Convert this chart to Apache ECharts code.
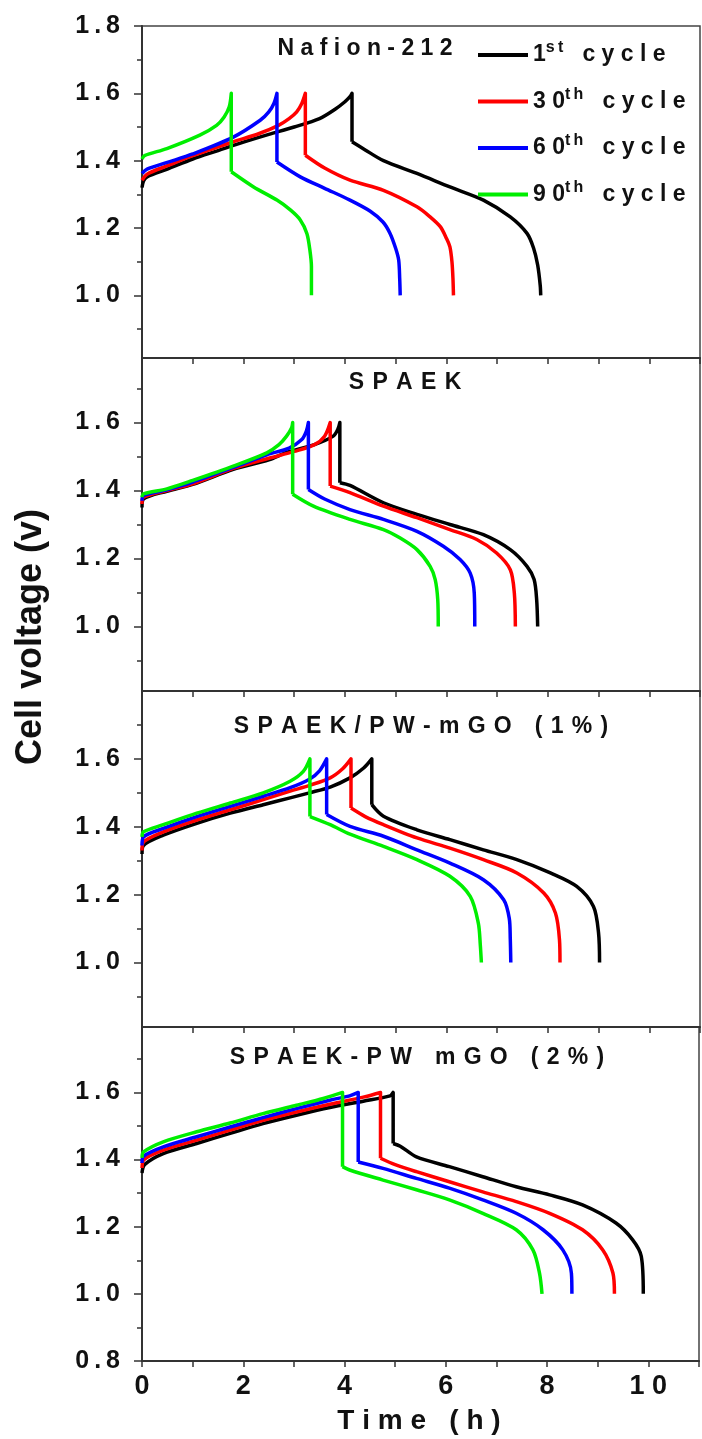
<!DOCTYPE html>
<html>
<head>
<meta charset="utf-8">
<title>Charge-discharge curves</title>
<script src="https://cdn.jsdelivr.net/npm/echarts@6/dist/echarts.min.js"></script>
<style>
html, body { margin: 0; padding: 0; background: #fff; }
#chart { width: 702px; height: 1439px; }
</style>
</head>
<body>
<div id="chart"></div>
<script>
// 充放电曲线数据: [时间 h, 电压 V]
// Nafion-212
var nafion1st = [[0,1.32],[0.03,1.34],[0.1,1.352],[0.5,1.375],[1,1.405],[1.5,1.43],[2,1.455],[2.5,1.478],[3,1.50],[3.5,1.525],[3.8,1.552],[4.0,1.575],[4.1,1.59],[4.14,1.60],[4.14,1.456],[4.4,1.432],[4.76,1.40],[5.42,1.362],[6.07,1.322],[6.73,1.283],[7.26,1.233],[7.59,1.184],[7.72,1.14],[7.8,1.09],[7.85,1.03],[7.86,1.0]];
var nafion30th = [[0,1.342],[0.1,1.36],[0.5,1.385],[1,1.415],[1.8,1.456],[2.3,1.48],[2.69,1.505],[2.9,1.525],[3.05,1.545],[3.15,1.57],[3.22,1.60],[3.22,1.416],[3.6,1.378],[4.1,1.342],[4.76,1.312],[5.42,1.263],[5.68,1.233],[5.88,1.204],[6.0,1.17],[6.07,1.144],[6.11,1.10],[6.13,1.05],[6.14,1.0]];
var nafion60th = [[0,1.362],[0.1,1.375],[0.5,1.395],[1,1.42],[1.8,1.47],[2.33,1.52],[2.5,1.545],[2.6,1.57],[2.66,1.60],[2.66,1.396],[3.12,1.352],[3.6,1.318],[4.1,1.283],[4.5,1.25],[4.75,1.218],[4.89,1.184],[5.0,1.14],[5.06,1.105],[5.08,1.05],[5.09,1.0]];
var nafion90th = [[0,1.405],[0.05,1.415],[0.49,1.436],[1.14,1.476],[1.47,1.505],[1.62,1.53],[1.72,1.56],[1.76,1.60],[1.76,1.367],[2.2,1.322],[2.66,1.283],[2.93,1.253],[3.12,1.224],[3.25,1.184],[3.31,1.134],[3.34,1.085],[3.34,1.0]];
// SPAEK
var spaek1st = [[0,1.35],[0.03,1.375],[0.49,1.398],[1,1.418],[1.8,1.462],[2.5,1.49],[2.85,1.512],[3.4,1.535],[3.77,1.56],[3.86,1.58],[3.9,1.60],[3.9,1.423],[4.1,1.415],[4.76,1.364],[5.42,1.33],[6.07,1.30],[6.73,1.27],[7.26,1.226],[7.59,1.177],[7.73,1.138],[7.78,1.079],[7.8,1.0]];
var spaek30th = [[0,1.36],[0.03,1.38],[0.49,1.40],[1,1.42],[1.8,1.465],[2.5,1.495],[3,1.515],[3.4,1.535],[3.6,1.56],[3.71,1.60],[3.71,1.413],[4.1,1.394],[4.76,1.354],[5.42,1.32],[6.07,1.285],[6.6,1.256],[6.99,1.216],[7.26,1.167],[7.34,1.098],[7.36,1.0]];
var spaek60th = [[0,1.37],[0.03,1.385],[0.49,1.402],[1,1.425],[1.8,1.468],[2.46,1.505],[2.9,1.525],[3.15,1.55],[3.24,1.575],[3.28,1.60],[3.28,1.403],[3.6,1.375],[4.1,1.344],[4.76,1.315],[5.42,1.28],[5.94,1.236],[6.27,1.197],[6.47,1.157],[6.55,1.098],[6.56,1.0]];
var spaek90th = [[0,1.38],[0.03,1.39],[0.49,1.405],[1,1.43],[1.8,1.472],[2.46,1.511],[2.7,1.535],[2.85,1.56],[2.95,1.585],[2.97,1.60],[2.97,1.389],[3.38,1.354],[4.1,1.315],[4.76,1.285],[5.09,1.26],[5.42,1.226],[5.68,1.177],[5.78,1.138],[5.83,1.079],[5.84,1.0]];
// SPAEK/PW-mGO (1%)
var pw1_1st = [[0,1.32],[0.03,1.345],[0.42,1.375],[1.08,1.41],[1.74,1.44],[2.39,1.465],[2.92,1.485],[3.3,1.50],[3.71,1.517],[4.1,1.544],[4.37,1.573],[4.53,1.60],[4.53,1.465],[4.76,1.431],[5.42,1.391],[6.07,1.362],[6.73,1.332],[7.39,1.303],[8.05,1.264],[8.57,1.224],[8.9,1.165],[9.0,1.087],[9.02,1.0]];
var pw1_30th = [[0,1.33],[0.03,1.355],[0.42,1.385],[1.08,1.42],[1.74,1.45],[2.39,1.48],[2.92,1.505],[3.3,1.522],[3.71,1.544],[3.95,1.57],[4.12,1.60],[4.12,1.455],[4.4,1.43],[4.76,1.406],[5.42,1.367],[6.07,1.337],[6.73,1.303],[7.39,1.264],[7.92,1.205],[8.15,1.146],[8.23,1.067],[8.24,1.0]];
var pw1_60th = [[0,1.345],[0.03,1.37],[0.42,1.395],[1.08,1.43],[1.74,1.46],[2.39,1.49],[2.92,1.515],[3.3,1.54],[3.5,1.565],[3.64,1.60],[3.64,1.436],[4.1,1.401],[4.76,1.372],[5.42,1.332],[6.07,1.293],[6.73,1.244],[7.13,1.185],[7.24,1.13],[7.26,1.07],[7.27,1.0]];
var pw1_90th = [[0,1.37],[0.03,1.385],[0.42,1.406],[1.08,1.44],[1.74,1.47],[2.39,1.50],[2.92,1.534],[3.18,1.563],[3.31,1.60],[3.31,1.43],[3.71,1.406],[4.1,1.378],[4.76,1.342],[5.42,1.303],[6.07,1.254],[6.47,1.195],[6.63,1.116],[6.67,1.05],[6.69,1.0]];
// SPAEK-PW mGO (2%)
var pw2_1st = [[0,1.36],[0.05,1.385],[0.42,1.418],[1.08,1.448],[1.74,1.478],[2.39,1.507],[3.05,1.532],[3.71,1.555],[4.37,1.574],[4.9,1.59],[4.96,1.60],[4.96,1.448],[5.1,1.44],[5.42,1.408],[6.07,1.379],[6.73,1.349],[7.39,1.319],[8.05,1.295],[8.7,1.265],[9.36,1.211],[9.69,1.161],[9.86,1.112],[9.9,1.0]];
var pw2_30th = [[0,1.375],[0.04,1.40],[0.42,1.428],[1.08,1.458],[1.74,1.488],[2.39,1.517],[3.05,1.542],[3.71,1.565],[4.37,1.586],[4.71,1.60],[4.71,1.404],[5.0,1.385],[5.42,1.364],[6.07,1.334],[6.73,1.304],[7.39,1.275],[8.05,1.24],[8.7,1.191],[9.1,1.131],[9.3,1.062],[9.33,1.0]];
var pw2_60th = [[0,1.39],[0.03,1.41],[0.42,1.438],[1.08,1.468],[1.74,1.497],[2.39,1.525],[3.05,1.552],[3.71,1.577],[4.1,1.59],[4.27,1.60],[4.27,1.393],[4.76,1.374],[5.42,1.344],[6.07,1.315],[6.73,1.28],[7.39,1.24],[7.92,1.191],[8.31,1.131],[8.48,1.062],[8.49,1.0]];
var pw2_90th = [[0,1.405],[0.03,1.423],[0.42,1.453],[1.08,1.483],[1.74,1.509],[2.39,1.537],[3.05,1.562],[3.58,1.582],[3.96,1.60],[3.96,1.379],[4.1,1.369],[4.76,1.339],[5.42,1.31],[6.07,1.28],[6.73,1.24],[7.39,1.191],[7.72,1.131],[7.85,1.062],[7.9,1.0]];

var cycleNames = ['1st cycle', '30th cycle', '60th cycle', '90th cycle'];
var cycleNumbers = ['1', '30', '60', '90'];
var cycleSuffix = ['st', 'th', 'th', 'th'];
var panelTitles = ['Nafion-212', 'SPAEK', 'SPAEK/PW-mGO (1%)', 'SPAEK-PW mGO (2%)'];
var panelData = [
	[nafion1st, nafion30th, nafion60th, nafion90th],
	[spaek1st, spaek30th, spaek60th, spaek90th],
	[pw1_1st, pw1_30th, pw1_60th, pw1_90th],
	[pw2_1st, pw2_30th, pw2_60th, pw2_90th]
];
var yMin = [0.814, 0.81, 0.81, 0.8];
var yMax = [1.8, 1.79, 1.8, 1.795];
var yMajorTicks = [[1.0, 1.2, 1.4, 1.6, 1.8], [1.0, 1.2, 1.4, 1.6], [1.0, 1.2, 1.4, 1.6], [0.8, 1.0, 1.2, 1.4, 1.6]];
var yMinorTicks = [0.9, 1.1, 1.3, 1.5, 1.7];
var xMax = 11;

// 样式
var colors = ['#000000', '#ff0000', '#0000ff', '#00ee00'];
var FONT = '"Liberation Sans", Arial, sans-serif';
var AXIS_COLOR = '#333';
var panelTop = [26, 358, 691, 1027];
var panelHeight = [332, 333, 336, 334];
var titlePos = [[365, 49], [405, 383], [421, 727], [417, 1058]];
var titleSep = [' ', ' \u200A', ' \u200A', ' \u200A'];

// 字符间加空隙, 模仿原图的字距
function spaced(str, sep) {
	return str.split('').join(sep);
}

// 找到电压骤降处(同一时间点的两个点), 分成充电段和放电段, 避免平滑时在拐角处变形
function splitAtDrop(data) {
	for (var i = 1; i < data.length; i++) {
		if (data[i][0] === data[i - 1][0] && data[i][1] < data[i - 1][1] - 0.05) {
			return [data.slice(0, i + 1), data.slice(i)];
		}
	}
	return [data];
}

var grids = [], xAxes = [], yAxes = [], series = [], graphics = [];

for (var p = 0; p < 4; p++) {
	grids.push({
		left: 142, right: 2, top: panelTop[p], height: panelHeight[p],
		show: true, borderColor: '#444', borderWidth: 1.5
	});
	xAxes.push({
		type: 'value', gridIndex: p, min: 0, max: xMax, interval: 1,
		axisLine: { lineStyle: { color: AXIS_COLOR, width: 2 } },
		axisTick: { length: 6, lineStyle: { color: AXIS_COLOR, width: 1.5 } },
		axisLabel: {
			show: p === 3, margin: 12, color: '#111',
			fontFamily: FONT, fontWeight: 'bold', fontSize: 27,
			formatter: function(v) { return v % 2 === 0 ? spaced(String(v), ' ') : ''; }
		},
		splitLine: { show: false }
	});
	// 主刻度 + 标签
	yAxes.push({
		type: 'value', gridIndex: p, position: 'left', min: yMin[p], max: yMax[p],
		axisLine: { show: true, lineStyle: { color: AXIS_COLOR, width: 2 } },
		axisTick: { show: true, length: 8, customValues: yMajorTicks[p], lineStyle: { color: AXIS_COLOR, width: 1.5 } },
		axisLabel: {
			customValues: yMajorTicks[p], margin: 22, color: '#111',
			fontFamily: FONT, fontWeight: 'bold', fontSize: 25,
			formatter: function(v) { return spaced(Number(v).toFixed(1), '\u2009'); }
		},
		splitLine: { show: false }
	});
	// 次刻度
	yAxes.push({
		type: 'value', gridIndex: p, position: 'left', offset: 0, min: yMin[p], max: yMax[p],
		axisLine: { show: false },
		axisTick: { show: true, length: 5, customValues: yMinorTicks, lineStyle: { color: AXIS_COLOR, width: 1.5 } },
		axisLabel: { show: false },
		splitLine: { show: false }
	});
	for (var c = 0; c < 4; c++) {
		var parts = splitAtDrop(panelData[p][c]);
		for (var k = 0; k < parts.length; k++) {
			series.push({
				name: cycleNames[c], type: 'line', xAxisIndex: p, yAxisIndex: p * 2,
				data: parts[k], symbol: 'none', showSymbol: false, silent: true,
				smooth: 0.3,
				lineStyle: { color: colors[c], width: 3.5, join: 'round' },
				itemStyle: { color: colors[c] }
			});
		}
	}
	graphics.push({
		type: 'text', x: titlePos[p][0], y: titlePos[p][1],
		style: {
			text: spaced(panelTitles[p], titleSep[p]), fill: '#111',
			font: 'bold 23px ' + FONT,
			textAlign: 'center', textVerticalAlign: 'middle'
		}
	});
}

// 坐标轴标题
graphics.push({
	type: 'text', x: 31, y: 637, rotation: Math.PI / 2,
	style: {
		text: 'Cell voltage (v)', fill: '#111', font: 'bold 36px ' + FONT,
		textAlign: 'center', textVerticalAlign: 'middle'
	}
});
graphics.push({
	type: 'text', x: 419, y: 1421,
	style: {
		text: spaced('Time (h)', ' '), fill: '#111', font: 'bold 28px ' + FONT,
		textAlign: 'center', textVerticalAlign: 'middle'
	}
});

var myChart = echarts.init(document.getElementById('chart'));
var option = {
	animation: false,
	backgroundColor: '#fff',
	grid: grids,
	xAxis: xAxes,
	yAxis: yAxes,
	legend: {
		orient: 'vertical', left: 473, top: 35,
		itemWidth: 50, itemHeight: 4, itemGap: 20, icon: 'rect',
		selectedMode: false,
		data: cycleNames,
		formatter: function(name) {
			var i = cycleNames.indexOf(name);
			return '{n|' + spaced(cycleNumbers[i], ' ') + '}{s|' + spaced(cycleSuffix[i], '\u2009') + '}{n|   ' + spaced('cycle', ' ') + '}';
		},
		textStyle: {
			rich: {
				n: { fontFamily: FONT, fontWeight: 'bold', fontSize: 23, color: '#111', lineHeight: 30 },
				s: { fontFamily: FONT, fontWeight: 'bold', fontSize: 16, color: '#111', lineHeight: 10, verticalAlign: 'top' }
			}
		}
	},
	graphic: graphics,
	series: series
};
myChart.setOption(option);
</script>
</body>
</html>
